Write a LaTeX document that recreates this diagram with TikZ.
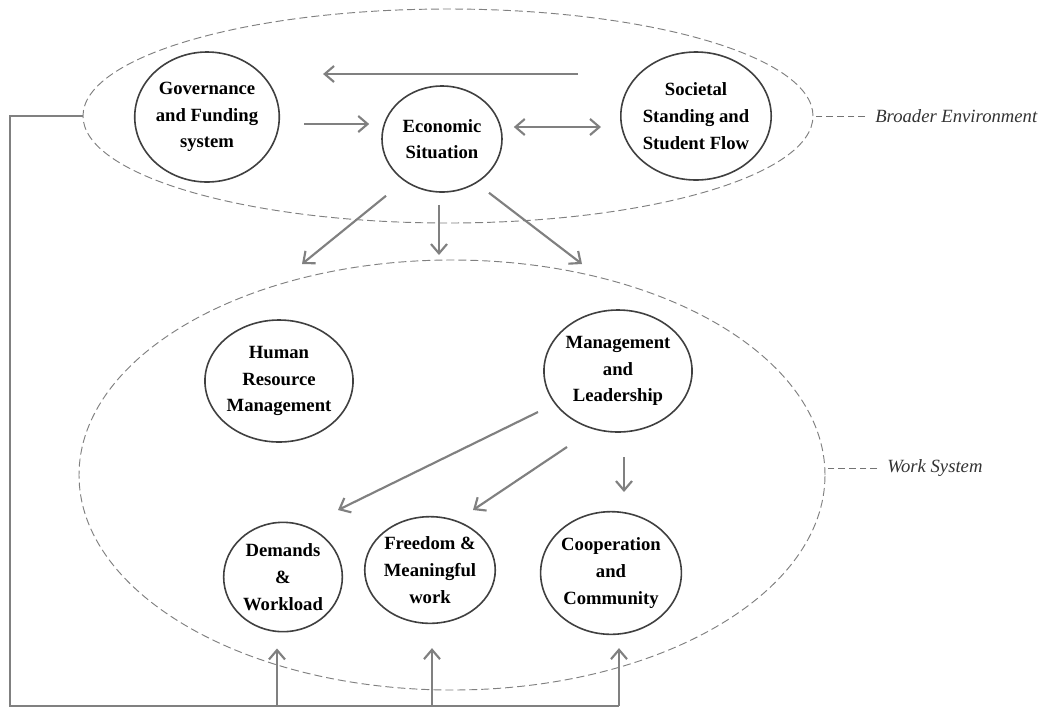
\documentclass[tikz,border=0pt]{standalone}
\usepackage{fontspec}
\setmainfont{Liberation Serif}
\usetikzlibrary{shapes.geometric,arrows.meta,calc}
\begin{document}
\begin{tikzpicture}[x=0.75pt,y=-0.75pt,
  circ/.style={ellipse,draw=black!75,line width=1.2pt,inner sep=0pt,align=center,
    font=\fontsize{14}{20}\selectfont\bfseries},
  zone/.style={ellipse,draw=black!50,line width=0.7pt,dash pattern=on 6pt off 3pt,inner sep=0pt},
  arr/.style={draw=black!50,line width=1.6pt,-{Straight Barb[length=7pt,width=12pt]}},
  darr/.style={draw=black!50,line width=1.6pt,{Straight Barb[length=7pt,width=12pt]}-{Straight Barb[length=7pt,width=12pt]}},
  fbline/.style={draw=black!50,line width=1.6pt},
  ldash/.style={draw=black!55,line width=0.7pt,dash pattern=on 5pt off 3pt},
  lbl/.style={anchor=west,inner sep=0pt,text=black!80,font=\fontsize{14}{16}\selectfont\itshape}
]
\path[use as bounding box,fill=white] (0,0) rectangle (1056,708);

% zones
\node[zone,minimum width=547.5pt,minimum height=160.5pt] (env) at (448,116) {};
\node[zone,minimum width=559.5pt,minimum height=322.5pt] (work) at (452,475) {};

% labels
\node[lbl] (belabel) at (875,116) {Broader Environment};
\node[lbl] (wslabel) at (887,468) {Work System};
\draw[ldash] ([xshift=-7.5pt]belabel.west) -- (belabel.west -| env.east);
\draw[ldash] ([xshift=-7.5pt]wslabel.west) -- (wslabel.west -| work.east);

% circles
\node[circ,minimum width=108pt,minimum height=97.5pt] (gov) at (207,117) {Governance\\and Funding\\system};
\node[circ,minimum width=90pt,minimum height=79.5pt] (eco) at (442,139) {Economic\\Situation};
\node[circ,minimum width=111pt,minimum height=96pt] (soc) at (696,116) {Societal\\Standing and\\Student Flow};
\node[circ,minimum width=99pt,minimum height=91.5pt] (hrm) at (279,381) {Human\\Resource\\Management};
\node[circ,minimum width=99.75pt,minimum height=91.5pt] (mgt) at (618,371) {Management\\and\\Leadership};
\node[circ,minimum width=89pt,minimum height=82pt] (dem) at (283,577) {Demands\\\&\\Workload};
\node[circ,minimum width=88.5pt,minimum height=80pt] (fre) at (430,570) {Freedom \&\\Meaningful\\work};
\node[circ,minimum width=103.5pt,minimum height=92pt] (coo) at (611,573) {Cooperation\\and\\Community};

% arrows in broader environment
\draw[arr] ($(soc.west)+(-42,-42)$) -- ($(gov.east)+(43,-43)$);
\draw[arr] ($(gov.east)+(24,7)$) -- ($(eco.west)+(-12,-15)$);
\draw[darr] ($(eco.east)+(11,-12)$) -- ($(soc.west)+(-19,11)$);

% arrows from economic situation towards work system
\coordinate (t1) at (302,264);
\coordinate (t2) at (439,255);
\coordinate (t3) at (582,264);
\draw[arr] ($(eco.south)+(-56,3)$) -- (t1);
\draw[arr] ($(eco.south)+(-3,12)$) -- (t2);
\draw[arr] ($(eco.south)+(47,0)$) -- (t3);

% arrows from management and leadership
\draw[arr] ($(mgt)+(-80,41)$) -- ($(dem)+(55,-67)$);
\draw[arr] ($(mgt)+(-51,76)$) -- ($(fre)+(43,-60)$);
\draw[arr] ($(mgt)+(6,86)$) -- ($(coo)+(13,-81)$);

% feedback loop
\coordinate (fbc) at (10,706);
\coordinate (b1) at (277,706);
\coordinate (b2) at (432,706);
\coordinate (b3) at (619,706);
\draw[fbline] (env.west) -- (env.west -| fbc) -- (fbc) -- (b3);
\draw[arr] (b1) -- ($(b1 |- dem.south)+(0,16)$);
\draw[arr] (b2) -- ($(b2 |- fre.south)+(0,24)$);
\draw[arr] (b3) -- ($(b3 |- coo.south)+(0,13)$);
\end{tikzpicture}
\end{document}
